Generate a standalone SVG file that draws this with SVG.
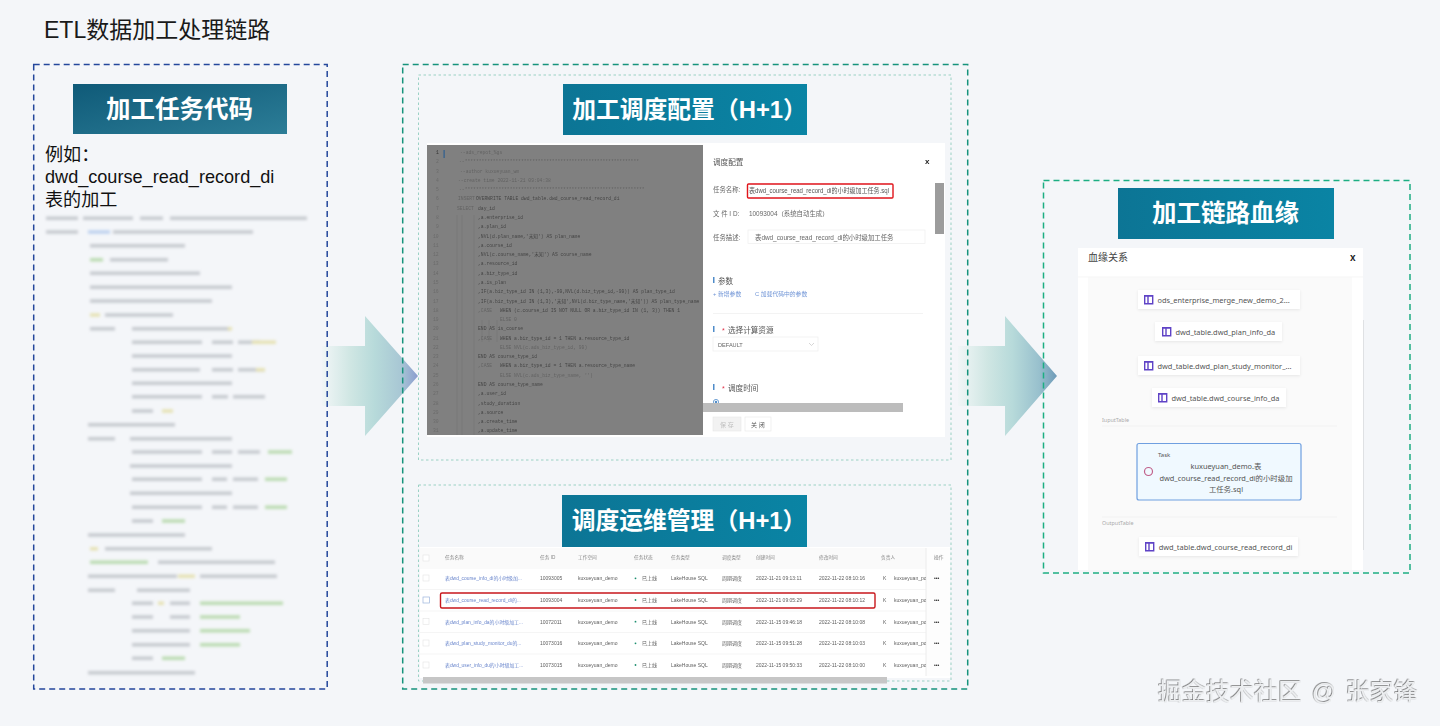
<svg xmlns="http://www.w3.org/2000/svg" width="1440" height="726" viewBox="0 0 1440 726">
<style>
text{font-family:"Liberation Sans","Noto Sans CJK SC",sans-serif;fill:#222}
.banner{font-family:"Liberation Sans","Noto Sans CJK SC",sans-serif;font-weight:700;font-size:24.5px;fill:#fff;text-anchor:middle}
.bm{font-size:23.800px}
.lt{font-size:18.100px;fill:#111}
.box{fill:none;stroke-dasharray:6 4;stroke-width:1.5}
.inner{fill:none;stroke:#9ad1c4;stroke-width:1;stroke-dasharray:2.5 2.5}
.bk{fill:none;stroke:#c6cacf;stroke-width:3.4}
.bb{fill:none;stroke:#bcd0ee;stroke-width:3.4}
.bg{fill:none;stroke:#bcdcb2;stroke-width:3.4}
.by{fill:none;stroke:#e6e2b4;stroke-width:3.4}
.c{font-family:"Liberation Mono","Noto Sans CJK SC",monospace;font-size:4.700px;fill:#454545}
.cf{font-family:"Liberation Mono","Noto Sans CJK SC",monospace;font-size:4.700px;fill:#626262}
.n{font-family:"Liberation Mono",monospace;font-size:4.700px;fill:#6a6a6a}
.m{font-size:6.400px;fill:#666}
.h{font-size:7.600px;fill:#555}
.lk{font-size:5.800px;fill:#6f94d6}
.t{font-size:5px;fill:#5e5e5e}
.th{font-size:4.700px;fill:#888}
.tl{font-size:4.900px;fill:#6a86cc}
.op{font-size:5px;fill:#333;font-weight:700}
.d{fill:#1f8f70}
.nd{fill:#fff;filter:url(#sh)}
.ic{fill:none;stroke:#5f43c6;stroke-width:1.400}
.nt{font-family:"Noto Sans","Noto Sans CJK SC",sans-serif;font-size:7.400px;fill:#555}
.lbl{font-family:"Noto Sans",sans-serif;font-size:5.400px;fill:#aaa}
</style>
<defs>
<linearGradient id="b1" x1="0" y1="0" x2="1" y2="1"><stop offset="0" stop-color="#0f5a78"/><stop offset="1" stop-color="#2c7d97"/></linearGradient>
<linearGradient id="b2" x1="0" y1="0" x2="1" y2="0"><stop offset="0" stop-color="#0c7595"/><stop offset="1" stop-color="#0a84a4"/></linearGradient>
<linearGradient id="a1" x1="322" y1="0" x2="418" y2="0" gradientUnits="userSpaceOnUse"><stop offset="0" stop-color="#f1f6f7"/><stop offset=".3" stop-color="#cfe6e3"/><stop offset=".55" stop-color="#b7dada"/><stop offset=".82" stop-color="#a8c7d4"/><stop offset="1" stop-color="#8b9ccf"/></linearGradient>
<linearGradient id="a2" x1="958" y1="0" x2="1057" y2="0" gradientUnits="userSpaceOnUse"><stop offset="0" stop-color="#f1f6f7"/><stop offset=".3" stop-color="#cfe6e3"/><stop offset=".55" stop-color="#b7dada"/><stop offset=".82" stop-color="#98c0cd"/><stop offset="1" stop-color="#6d9ab8"/></linearGradient>
<filter id="blur" x="-5%" y="-5%" width="110%" height="110%"><feGaussianBlur stdDeviation="1.700"/></filter>
<filter id="soft" x="-2%" y="-2%" width="104%" height="104%"><feGaussianBlur stdDeviation=".3"/></filter>
<filter id="sh" x="-10%" y="-30%" width="120%" height="170%"><feDropShadow dx="0" dy="1" stdDeviation="1.500" flood-color="#000" flood-opacity=".08"/></filter>
<filter id="wm" x="-5%" y="-20%" width="110%" height="140%"><feDropShadow dx="-.6" dy="-.6" stdDeviation=".25" flood-color="#444" flood-opacity=".9"/></filter>
<clipPath id="own"><rect x="880" y="550" width="46" height="125"/></clipPath>
</defs>
<rect width="1440" height="726" fill="#f4f6f9"/>
<text id="title" x="44" y="38" font-size="23" style="fill:#1a1a1a">ETL数据加工处理链路</text>

<g id="connectors">
<polygon fill="url(#a1)" points="322,346 365,346 365,316 418,376 365,436 365,406 322,406"/>
<polygon fill="url(#a2)" points="958,346 1005,346 1005,316 1057,376 1005,436 1005,406 958,406"/>
</g>

<g id="code-task">
<rect class="box" x="33.700" y="64.500" width="293.500" height="624.500" stroke="#24479c"/>
<rect x="73" y="84" width="214" height="50" fill="url(#b1)"/>
<text class="banner" x="179.500" y="118">加工任务代码</text>
<text class="lt" x="45" y="161">例如：</text>
<text class="lt" x="45" y="183">dwd_course_read_record_di</text>
<text class="lt" x="45" y="206">表的加工</text>
<g filter="url(#blur)">
<path class="bk" d="M46 218.300H78M83 218.300H133M140 218.300H163M170 218.300H307M46 232H78M113 232H253M90 245.700H185M110 259.700H168M90 273.300H200M90 287.300H232M90 301H212M105 315H173M90 328.700H115M132 328.700H230M132 342.300H202M212 342.300H233M238 342.300H260M132 356H232M132 369.700H200M212 369.700H233M238 369.700H265M132 383.300H232M132 396.700H202M212 396.700H228M233 396.700H265M132 411H153M88 424.700H175M88 438.700H115M130 438.700H232M132 452H202M212 452H232M238 452H260M130 466H232M132 479.300H202M212 479.300H227M233 479.300H258M130 493.300H232M132 507.300H202M212 507.300H227M233 507.300H258M132 521H153M88 535H185M105 548.700H212M158 562.300H275M88 576.300H177M200 576.300H277M88 590.300H115M137 590.300H190M132 603.300H153M170 603.300H190M132 617H153M170 617H190M132 630.700H190M132 644.700H190M132 658.300H153M88 672.700H195"/>
<path class="bb" d="M88 232H110"/>
<path class="bg" d="M268 452H292M265 479.300H287M265 507.300H287M162 521H185M90 562.300H148M200 603.300H283M200 617H240M200 630.700H250M200 644.700H240M162 658.300H185M90 259.700H103"/>
<path class="by" d="M90 315H100M228 328.700H232M252 342.300H276M256 369.700H265M162 411H173M90 548.700H98M178 576.300H195M158 603.300H164"/>
</g>
</g>

<g id="outer-middle"><rect class="box" x="402.700" y="64.500" width="565" height="624.500" stroke="#16937c"/></g>

<g id="schedule-config">
<rect class="inner" x="418.500" y="75" width="532.500" height="385"/>
<rect x="427" y="143" width="518" height="294" fill="#fff"/>
<rect x="427" y="145" width="276" height="290" fill="#808080"/>
<path d="M457 215V435M462 215V435M474 215V435M482 320V342M489 320V342M497 320V342" stroke="#747474" stroke-width=".6" fill="none"/>
<rect x="443.500" y="150" width="1.200" height="8" fill="#2e5f8f"/>
<g class="code" filter="url(#soft)">
<text class="n" x="436" y="154" style="fill:#333">1</text><text class="n" x="436" y="163.300">2</text><text class="n" x="436" y="172.600">3</text><text class="n" x="436" y="181.800">4</text><text class="n" x="436" y="191.100">5</text><text class="n" x="436" y="200.400">6</text><text class="n" x="436" y="209.700">7</text><text class="n" x="436" y="219">8</text><text class="n" x="436" y="228.200">9</text><text class="n" x="433" y="237.500">10</text><text class="n" x="433" y="246.800">11</text><text class="n" x="433" y="256.100">12</text><text class="n" x="433" y="265.400">13</text><text class="n" x="433" y="274.600">14</text><text class="n" x="433" y="283.900">15</text><text class="n" x="433" y="293.200">16</text><text class="n" x="433" y="302.500">17</text><text class="n" x="433" y="311.800">18</text><text class="n" x="433" y="321">19</text><text class="n" x="433" y="330.300">20</text><text class="n" x="433" y="339.600">21</text><text class="n" x="433" y="348.900">22</text><text class="n" x="433" y="358.200">23</text><text class="n" x="433" y="367.400">24</text><text class="n" x="433" y="376.700">25</text><text class="n" x="433" y="386">26</text><text class="n" x="433" y="395.300">27</text><text class="n" x="433" y="404.600">28</text><text class="n" x="433" y="413.800">29</text><text class="n" x="433" y="423.100">30</text><text class="n" x="433" y="432.400">31</text>
<text class="cf" x="460" y="154">--ads_repot_%gs</text>
<text class="cf" x="459" y="163.300">--**************************************************************</text>
<text class="cf" x="460" y="172.600">--author kuxueyuan_wm</text>
<text class="cf" x="458" y="181.800">--create time 2022-11-21 09:04:38</text>
<text class="cf" x="459" y="191.100">--****************************************************************</text>
<text class="cf" x="458" y="200.400">INSERT</text><text class="c" x="476" y="200.400">OVERWRITE TABLE dwd_table.dwd_course_read_record_di</text>
<text class="cf" x="457" y="209.700">SELECT</text><text class="c" x="478" y="209.700">day_id</text>
<text class="c" x="478" y="219">,a.enterprise_id</text>
<text class="c" x="478" y="228.200">,a.plan_id</text>
<text class="c" x="478" y="237.500">,NVL(d.plan_name,'未知') AS plan_name</text>
<text class="c" x="478" y="246.800">,a.course_id</text>
<text class="c" x="478" y="256.100">,NVL(c.course_name,'未知') AS course_name</text>
<text class="c" x="478" y="265.400">,a.resource_id</text>
<text class="c" x="478" y="274.600">,a.biz_type_id</text>
<text class="c" x="478" y="283.900">,a.is_plan</text>
<text class="c" x="478" y="293.200">,IF(a.biz_type_id IN (1,3),-99,NVL(d.biz_type_id,-99)) AS plan_type_id</text>
<text class="c" x="478" y="302.500">,IF(a.biz_type_id IN (1,3),'未知',NVL(d.biz_type_name,'未知')) AS plan_type_name</text>
<text class="cf" x="478" y="311.800">,CASE</text><text class="c" x="500" y="311.800">WHEN (c.course_id IS NOT NULL OR a.biz_type_id IN (1, 3)) THEN 1</text>
<text class="cf" x="500" y="321">ELSE 0</text>
<text class="c" x="478" y="330.300">END AS is_course</text>
<text class="cf" x="478" y="339.600">,CASE</text><text class="c" x="500" y="339.600">WHEN a.biz_type_id = 1 THEN a.resource_type_id</text>
<text class="cf" x="500" y="348.900">ELSE NVL(c.ads_biz_type_id, 99)</text>
<text class="c" x="478" y="358.200">END AS course_type_id</text>
<text class="cf" x="478" y="367.400">,CASE</text><text class="c" x="500" y="367.400">WHEN a.biz_type_id = 1 THEN a.resource_type_name</text>
<text class="cf" x="500" y="376.700">ELSE NVL(c.ads_biz_type_name, '')</text>
<text class="c" x="478" y="386">END AS course_type_name</text>
<text class="c" x="478" y="395.300">,a.user_id</text>
<text class="c" x="478" y="404.600">,study_duration</text>
<text class="c" x="478" y="413.800">,a.source</text>
<text class="c" x="478" y="423.100">,a.create_time</text>
<text class="c" x="478" y="432.400">,a.update_time</text>
</g>
<g class="modal" filter="url(#soft)">
<text class="h" x="713" y="164.500">调度配置</text>
<text x="925" y="164" font-size="8" font-weight="700" style="fill:#222">x</text>
<text class="m" x="713" y="192">任务名称:</text>
<rect x="747.500" y="184" width="145.500" height="14" rx="1" fill="#fff" stroke="#e0161a" stroke-width="1.400"/>
<text class="m" x="749" y="192.500" textLength="140" lengthAdjust="spacingAndGlyphs" style="fill:#555">表dwd_course_read_record_di的小时级加工任务.sql</text>
<text class="m" x="713" y="216">文 件 I D:</text>
<text class="m" x="749" y="216">10093004（系统自动生成）</text>
<text class="m" x="713" y="240">任务描述:</text>
<rect x="748" y="230" width="177" height="13.500" fill="#fff" stroke="#eee" stroke-width=".7"/>
<text class="m" x="755" y="240">表dwd_course_read_record_di的小时级加工任务</text>
<rect x="935" y="183" width="9" height="51" fill="#9c9c9c"/>
<rect x="713" y="277" width="1.500" height="6" fill="#4f8cc9"/>
<text class="h" x="718" y="283.500">参数</text>
<text class="lk" x="713" y="296">+ 新增参数</text>
<text class="lk" x="755" y="296">C 加载代码中的参数</text>
<path d="M713 313.500H923" stroke="#eee" stroke-width=".7"/>
<rect x="713" y="326" width="1.500" height="6" fill="#4f8cc9"/>
<text x="722" y="332.500" font-size="7" style="fill:#e0324a">*</text>
<text class="h" x="728" y="332.500">选择计算资源</text>
<rect x="713" y="337" width="105" height="14" fill="#fff" stroke="#eee" stroke-width=".7"/>
<text x="718" y="347" font-size="5.600" style="fill:#666">DEFAULT</text>
<path d="M809 343l2.500 2.500 2.500-2.500" fill="none" stroke="#bbb" stroke-width=".6"/>
<rect x="713" y="384" width="1.500" height="6" fill="#4f8cc9"/>
<text x="722" y="390.500" font-size="7" style="fill:#e0324a">*</text>
<text class="h" x="728" y="390.500">调度时间</text>
<circle cx="716" cy="402" r="2.600" fill="#fff" stroke="#4f8cc9" stroke-width=".8"/><circle cx="716" cy="402" r="1.200" fill="#4f8cc9"/>
<rect x="703" y="403" width="200" height="9" fill="#bcbcbc"/>
<rect x="713" y="417" width="28" height="14" fill="#f2f2f2" stroke="#e6e6e6" stroke-width=".6"/>
<text x="720" y="426.500" font-size="6" style="fill:#c0c0c0">保 存</text>
<rect x="745" y="417" width="26" height="14" fill="#fff" stroke="#e8e8e8" stroke-width=".6"/>
<text x="751" y="426.500" font-size="6" style="fill:#555">关 闭</text>
</g>
<rect x="563" y="84" width="244" height="51" fill="url(#b2)"/>
<text class="banner bm" x="689.500" y="118">加工调度配置（H+1）</text>
</g>

<g id="ops-management">
<rect class="inner" x="418.500" y="485" width="532.500" height="196"/>
<rect x="420" y="547" width="530" height="131" fill="#fff"/>
<rect x="420" y="548" width="530" height="19" fill="#fafafa"/>
<path d="M420 589.500H926M420 611H926M420 632.500H926M420 654H926M420 568H950" stroke="#f0f0f0" stroke-width=".7"/>
<rect x="926" y="548" width="24" height="128" fill="#fdfdfd"/>
<path d="M926 548V676" stroke="#ececec" stroke-width="1"/>
<g class="hdr" filter="url(#soft)">
<text class="th" x="445" y="559">任务名称</text><text class="th" x="540" y="559">任务 ID</text><text class="th" x="578" y="559">工作空间</text><text class="th" x="634" y="559">任务状态</text><text class="th" x="671" y="559">任务类型</text><text class="th" x="722" y="559">调度类型</text><text class="th" x="756" y="559">创建时间</text><text class="th" x="819" y="559">修改时间</text><text class="th" x="881" y="559">负责人</text><text class="th" x="934" y="559">操作</text>
</g>
<rect x="423" y="555" width="6" height="6" fill="#fff" stroke="#e4e4e4" stroke-width=".6"/>
<rect x="423" y="575" width="6" height="6" fill="#fff" stroke="#e4e4e4" stroke-width=".6"/>
<rect x="423" y="597" width="6.500" height="6" fill="#fff" stroke="#9cb4dc" stroke-width=".7"/>
<rect x="423" y="618.500" width="6" height="6" fill="#fff" stroke="#e4e4e4" stroke-width=".6"/>
<rect x="423" y="640" width="6" height="6" fill="#fff" stroke="#e4e4e4" stroke-width=".6"/>
<rect x="423" y="662" width="6" height="6" fill="#fff" stroke="#e4e4e4" stroke-width=".6"/>
<g class="rows" filter="url(#soft)">
<g class="row"><text class="tl" x="445" y="580">表dwd_course_info_di的小时级加...</text><text class="t" x="540" y="580">10093005</text><text class="t" x="578" y="580">kuxueyuan_demo</text><circle class="d" cx="635.500" cy="578.300" r=".9"/><text class="t" x="642" y="580">已上线</text><text class="t" x="671" y="580">LakeHouse SQL</text><text class="t" x="722" y="580">周期调度</text><text class="t" x="756" y="580">2022-11-21 09:13:11</text><text class="t" x="819" y="580">2022-11-22 08:10:16</text><text class="t" x="883" y="580">K</text><text class="t" x="894" y="580" clip-path="url(#own)">kuxueyuan_po</text><text class="op" x="934" y="580">•••</text></g>
<g class="row"><text class="tl" x="445" y="602">表dwd_course_read_record_di的...</text><text class="t" x="540" y="602">10093004</text><text class="t" x="578" y="602">kuxueyuan_demo</text><circle class="d" cx="635.500" cy="600" r=".9"/><text class="t" x="642" y="602">已上线</text><text class="t" x="671" y="602">LakeHouse SQL</text><text class="t" x="722" y="602">周期调度</text><text class="t" x="756" y="602">2022-11-21 09:05:29</text><text class="t" x="819" y="602">2022-11-22 08:10:12</text><text class="t" x="883" y="602">K</text><text class="t" x="894" y="602" clip-path="url(#own)">kuxueyuan_po</text><text class="op" x="934" y="602">•••</text></g>
<g class="row"><text class="tl" x="445" y="623.500">表dwd_plan_info_da的小时级加工...</text><text class="t" x="540" y="623.500">10072011</text><text class="t" x="578" y="623.500">kuxueyuan_demo</text><circle class="d" cx="635.500" cy="621.700" r=".9"/><text class="t" x="642" y="623.500">已上线</text><text class="t" x="671" y="623.500">LakeHouse SQL</text><text class="t" x="722" y="623.500">周期调度</text><text class="t" x="756" y="623.500">2022-11-15 09:46:18</text><text class="t" x="819" y="623.500">2022-11-22 08:10:08</text><text class="t" x="883" y="623.500">K</text><text class="t" x="894" y="623.500" clip-path="url(#own)">kuxueyuan_po</text><text class="op" x="934" y="623.500">•••</text></g>
<g class="row"><text class="tl" x="445" y="645">表dwd_plan_study_monitor_du的...</text><text class="t" x="540" y="645">10073016</text><text class="t" x="578" y="645">kuxueyuan_demo</text><circle class="d" cx="635.500" cy="643.300" r=".9"/><text class="t" x="642" y="645">已上线</text><text class="t" x="671" y="645">LakeHouse SQL</text><text class="t" x="722" y="645">周期调度</text><text class="t" x="756" y="645">2022-11-15 09:51:28</text><text class="t" x="819" y="645">2022-11-22 08:10:03</text><text class="t" x="883" y="645">K</text><text class="t" x="894" y="645" clip-path="url(#own)">kuxueyuan_po</text><text class="op" x="934" y="645">•••</text></g>
<g class="row"><text class="tl" x="445" y="667">表dwd_user_info_du的小时级加工...</text><text class="t" x="540" y="667">10073015</text><text class="t" x="578" y="667">kuxueyuan_demo</text><circle class="d" cx="635.500" cy="665" r=".9"/><text class="t" x="642" y="667">已上线</text><text class="t" x="671" y="667">LakeHouse SQL</text><text class="t" x="722" y="667">周期调度</text><text class="t" x="756" y="667">2022-11-15 09:50:33</text><text class="t" x="819" y="667">2022-11-22 08:10:00</text><text class="t" x="883" y="667">K</text><text class="t" x="894" y="667" clip-path="url(#own)">kuxueyuan_po</text><text class="op" x="934" y="667">•••</text></g>
</g>
<rect x="440.500" y="593" width="434.500" height="15" rx="1.500" fill="none" stroke="#c8171c" stroke-width="1.400"/>
<rect x="423" y="677" width="464" height="6.500" fill="#c6c6c6"/>
<rect x="562" y="495" width="245" height="52" fill="url(#b2)"/>
<text class="banner bm" x="689" y="529">调度运维管理（H+1）</text>
</g>

<g id="lineage">
<rect class="box" x="1043.500" y="180.500" width="366.500" height="392.500" stroke="#1cae83"/>
<rect x="1078" y="248" width="285" height="322" fill="#fff"/>
<rect x="1088" y="277" width="264" height="293" fill="#fafafa"/>
<path d="M1078 277H1363" stroke="#f2f2f2" stroke-width=".7"/>
<path d="M1363.500 320V550" stroke="#dfe1e4" stroke-width="1"/>
<rect x="1118" y="188" width="216" height="51" fill="url(#b2)"/>
<text class="banner" x="1225.500" y="222">加工链路血缘</text>
<text x="1088" y="261" font-size="10" style="fill:#444">血缘关系</text>
<text x="1350" y="261" font-size="10" font-weight="700" style="fill:#222">x</text>
<path d="M1102 426H1337M1102 517H1337" stroke="#f0f0f0" stroke-width=".8"/>
<text class="lbl" x="1102" y="422">IuputTable</text>
<text class="lbl" x="1102" y="525">OutputTable</text>
</g>
<g id="node-ods"><rect class="nd" x="1138" y="290" width="162" height="19"/><path class="ic" d="M1144.700 296h8M1148 296v7.500M1144.700 295.700h8v8h-8z"/><text class="nt" x="1157.500" y="302.500">ods_enterprise_merge_new_demo_2...</text></g>
<g id="node-plan-info"><rect class="nd" x="1155" y="322" width="127" height="19"/><path class="ic" d="M1162.700 328h8M1166 328v7.500M1162.700 327.700h8v8h-8z"/><text class="nt" x="1175.500" y="334.500">dwd_table.dwd_plan_info_da</text></g>
<g id="node-plan-study"><rect class="nd" x="1138" y="356" width="162" height="19"/><path class="ic" d="M1144.700 362h8M1148 362v7.500M1144.700 361.700h8v8h-8z"/><text class="nt" x="1157.500" y="368.500">dwd_table.dwd_plan_study_monitor_...</text></g>
<g id="node-course-info"><rect class="nd" x="1152" y="388" width="134" height="19"/><path class="ic" d="M1158.700 394h8M1162 394v7.500M1158.700 393.700h8v8h-8z"/><text class="nt" x="1171.500" y="400.500">dwd_table.dwd_course_info_da</text></g>
<g id="node-task">
<rect x="1137" y="443.500" width="164" height="56.500" rx="2" fill="#f0f9ff" stroke="#6f9fe0" stroke-width="1.200"/>
<circle cx="1148.500" cy="471.500" r="4" fill="none" stroke="#c0608a" stroke-width="1.200"/>
<text class="nt" x="1158" y="456.500" style="font-size:6px">Task</text>
<text class="nt" x="1226" y="469" text-anchor="middle">kuxueyuan_demo.表</text>
<text class="nt" x="1226" y="480.500" text-anchor="middle">dwd_course_read_record_di的小时级加</text>
<text class="nt" x="1226" y="492" text-anchor="middle">工任务.sql</text>
</g>
<g id="node-output"><rect class="nd" x="1139" y="537" width="159" height="19"/><path class="ic" d="M1145.700 543h8M1149 543v7.500M1145.700 542.700h8v8h-8z"/><text class="nt" x="1158.700" y="549.500">dwd_table.dwd_course_read_record_di</text></g>

<text id="watermark" x="1158" y="699.500" font-size="24" word-spacing="3" filter="url(#wm)" style="fill:#eceef0">掘金技术社区 @ 张家锋</text>
</svg>
